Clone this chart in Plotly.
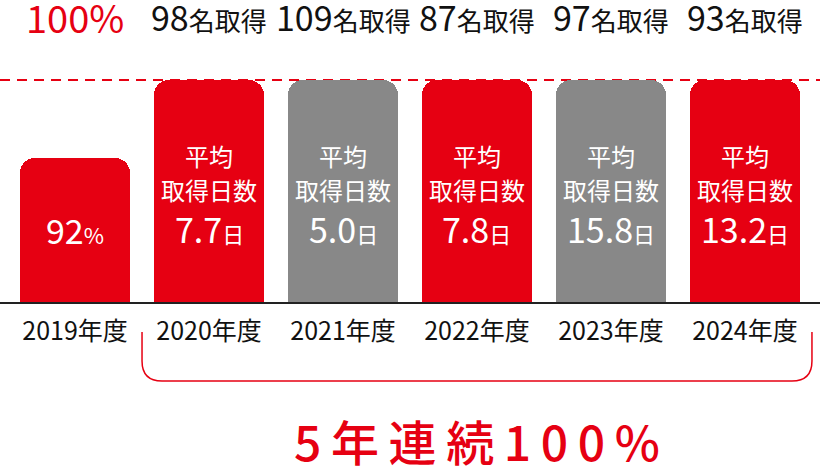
import plotly.graph_objects as go

# 年度別の取得率と取得者数・平均取得日数
years = ["2019年度", "2020年度", "2021年度", "2022年度", "2023年度", "2024年度"]
rate = [92, 100, 100, 100, 100, 100]
takers = [None, 98, 109, 87, 97, 93]
avg_days = [None, 7.7, 5.0, 7.8, 15.8, 13.2]
target = 100
headline = "5年連続100%"

RED = "#e60012"
GRAY = "#888888"
bar_colors = [RED, RED, GRAY, RED, GRAY, RED]
FONT = "Noto Sans CJK JP"

W, H = 820, 471
PLOT_H = 302
Y_LO, Y_HI = 77.23, 108.2
X_LO, X_HI = -0.56, 5.56


def xp(i):
    # category index -> paper x
    return (i - X_LO) / (X_HI - X_LO)


def yp(px):
    # pixel offset from top of figure -> paper y
    return (PLOT_H - px) / PLOT_H


fig = go.Figure(go.Bar(
    x=years,
    y=rate,
    width=0.82,
    marker=dict(color=bar_colors, cornerradius=15, line_width=0),
    hoverinfo="skip",
))

# 100% reference line
fig.add_shape(type="line", xref="paper", x0=0, x1=1, yref="y", y0=target, y1=target,
              line=dict(color=RED, width=2, dash="10px,7px"), layer="below")

# header row above the bars
for i, yr in enumerate(years):
    if takers[i] is None:
        txt = f"{target}%"
        fnt = dict(family=FONT, size=38, color=RED)
    else:
        txt = f"{takers[i]}<span style='font-size:26px'>名取得</span>"
        fnt = dict(family=FONT, size=34, color="#111111")
    fig.add_annotation(x=yr, xref="x", y=yp(17), yref="paper", text=txt,
                       showarrow=False, font=fnt, xanchor="center", yanchor="middle")

# labels inside the bars
for i, yr in enumerate(years):
    if avg_days[i] is None:
        fig.add_annotation(x=yr, y=(rate[i] + Y_LO) / 2, yanchor="middle",
                           text=f"{rate[i]}<span style='font-size:22px'>%</span>",
                           showarrow=False, font=dict(family=FONT, size=34, color="white"))
        continue
    fig.add_annotation(x=yr, y=rate[i], yshift=-76, yanchor="middle", text="平均",
                       showarrow=False, font=dict(family=FONT, size=24, color="white"))
    fig.add_annotation(x=yr, y=rate[i], yshift=-110, yanchor="middle", text="取得日数",
                       showarrow=False, font=dict(family=FONT, size=24, color="white"))
    fig.add_annotation(x=yr, y=rate[i], yshift=-149, yanchor="middle",
                       text=f"{avg_days[i]:.1f}<span style='font-size:22px'>日</span>",
                       showarrow=False, font=dict(family=FONT, size=34, color="white"))

# bracket under 2020-2024
xl, xr = xp(0.5), xp(5.5)
rx = 20 / W
ry = 20 / PLOT_H
top, bot = yp(332), yp(381)
path = (f"M {xl},{top} L {xl},{bot + ry} Q {xl},{bot} {xl + rx},{bot} "
        f"L {xr - rx},{bot} Q {xr},{bot} {xr},{bot + ry} L {xr},{top}")
fig.add_shape(type="path", xref="paper", yref="paper", path=path,
              line=dict(color=RED, width=1.5))

fig.add_annotation(x=(xl + xr) / 2, xref="paper", y=yp(440), yref="paper",
                   xanchor="center", yanchor="middle",
                   text="\u2009".join(headline), showarrow=False,
                   font=dict(family=FONT, size=48, color=RED, weight=500))

fig.update_layout(
    width=W,
    height=H,
    margin=dict(l=0, r=0, t=0, b=H - PLOT_H, pad=0),
    paper_bgcolor="white",
    plot_bgcolor="white",
    showlegend=False,
    bargap=0,
    xaxis=dict(range=[X_LO, X_HI], showline=True, linecolor="#222222", linewidth=2,
               showgrid=False, zeroline=False, ticks="outside", ticklen=6,
               tickcolor="rgba(0,0,0,0)",
               tickfont=dict(family=FONT, size=25, color="#111111"), fixedrange=True),
    yaxis=dict(range=[Y_LO, Y_HI], visible=False, fixedrange=True),
)

fig.write_html("out.html", config={"displayModeBar": False},
               post_script="document.body.style.margin='0';")
